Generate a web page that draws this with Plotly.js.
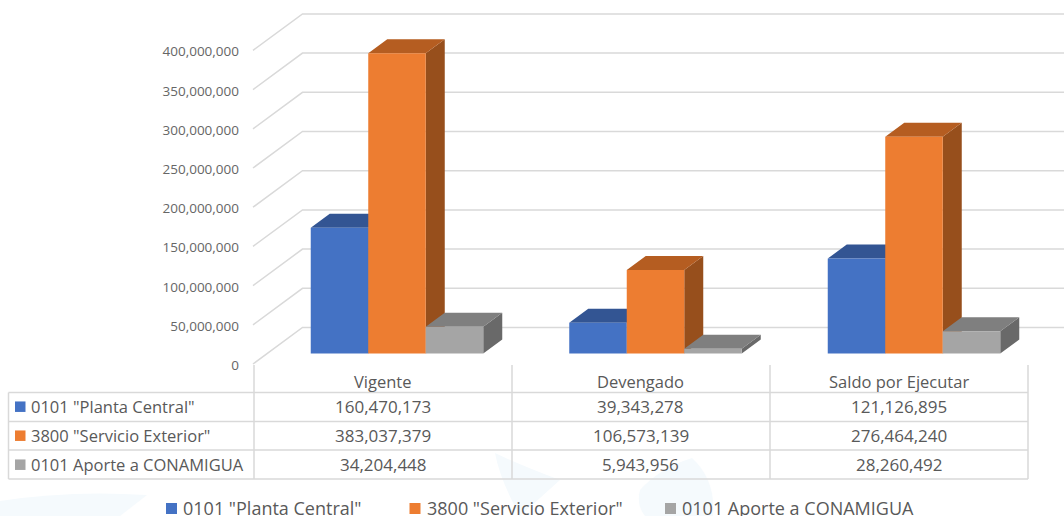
<!DOCTYPE html>
<html><head><meta charset="utf-8">
<script src="https://cdn.plot.ly/plotly-3.0.1.min.js"></script>
<style>html,body{margin:0;padding:0;background:#fff}#c{width:1064px;height:516px}</style></head>
<body><div id="c"></div>
<script>
const categories = ['Vigente', 'Devengado', 'Saldo por Ejecutar'];
const seriesNames = ['0101 "Planta Central"', '3800 "Servicio Exterior"', '0101 Aporte a CONAMIGUA'];
const planta = [160470173, 39343278, 121126895];
const servicio = [383037379, 106573139, 276464240];
const aporte = [34204448, 5943956, 28260492];
const yTicks = [0, 50000000, 100000000, 150000000, 200000000, 250000000, 300000000, 350000000, 400000000];
const colors = ['#4472C4', '#ED7D31', '#A5A5A5'];
const topColors = ['#335593', '#B55D21', '#7F7F7F'];
const sideColors = ['#2F4F8A', '#974F1C', '#696969'];
const seriesValues = [planta, servicio, aporte];

const W = 1064, H = 516;
const FONT = 'Open Sans, sans-serif', INK = '#595959', RULE = '#D9D9D9';
const px = p => p / W, py = p => 1 - p / H;
// scales
const unitPerPx = 1 / 258.5, valPerPx = 1 / 0.784e-6;
const xc0 = 397, yBars = 353.5, yFloor = 364, labelDrop = 1.2;
const xRange = [(0 - xc0) * unitPerPx, (W - xc0) * unitPerPx];
const rng = y0 => [(y0 - H) * valPerPx, y0 * valPerPx];
const barW = 57.5 * unitPerPx, depthX = 19 * unitPerPx, depthY = 14 * valPerPx;

const traces = [];
// wall and floor gridlines, on the axis that carries the tick labels
const wallX = 49.5 * unitPerPx, wallY = 36.5 * valPerPx, drop = labelDrop * valPerPx;
const xFront = (253 - xc0) * unitPerPx;
yTicks.forEach(v => traces.push({
  type: 'scatter', mode: 'lines', xaxis: 'x', yaxis: 'y', hoverinfo: 'skip', showlegend: false,
  x: [xFront, xFront + wallX, xRange[1]], y: [v + drop, v + drop + wallY, v + drop + wallY],
  line: {color: RULE, width: 1.5}
}));
// 3-D side and top faces, painter's order
seriesValues.forEach((vals, s) => {
  const fx = c => c + (s - 1.5) * barW;
  const sideX = [], sideY = [], topX = [], topY = [];
  vals.forEach((v, c) => {
    const l = fx(c), r = l + barW;
    sideX.push(r, r + depthX, r + depthX, r, r, null);
    sideY.push(0, depthY, v + depthY, v, 0, null);
    topX.push(l, l + depthX, r + depthX, r, l, null);
    topY.push(v, v + depthY, v + depthY, v, v, null);
  });
  traces.push({type:'scatter', mode:'lines', xaxis:'x', yaxis:'y2', x: sideX, y: sideY, fill:'toself',
    fillcolor: sideColors[s], line:{width:0}, hoverinfo:'skip', showlegend:false});
  traces.push({type:'scatter', mode:'lines', xaxis:'x', yaxis:'y2', x: topX, y: topY, fill:'toself',
    fillcolor: topColors[s], line:{width:0}, hoverinfo:'skip', showlegend:false});
});
// front faces
seriesValues.forEach((vals, s) => traces.push({
  type: 'bar', xaxis: 'x', yaxis: 'y3', name: seriesNames[s], x: [0, 1, 2], y: vals,
  marker: {color: colors[s]}, showlegend: false
}));

const annotations = [], shapes = [];
const label = (x, y, text, anchor, size) => annotations.push({
  xref:'paper', yref:'paper', x: px(x), y: py(y), text, showarrow:false, xanchor: anchor, yanchor:'middle',
  font:{family:FONT, size, color:INK}, borderpad:0
});
const rule = (x0, y0, x1, y1) => shapes.push({type:'line', xref:'paper', yref:'paper',
  x0: px(x0), y0: py(y0), x1: px(x1), y1: py(y1), line:{color:RULE, width:1.5}, layer:'above'});
const swatch = (x, yc, size, color) => shapes.push({type:'rect', xref:'paper', yref:'paper',
  x0: px(x), x1: px(x + size), y0: py(yc - size / 2), y1: py(yc + size / 2),
  fillcolor: color, line:{width:0}, layer:'above'});

// data table
const colX = [254, 512, 770, 1028], rowY = [392.5, 421.5, 450, 479];
colX.forEach(x => rule(x, 365, x, 479));
rule(8.5, 392.5, 8.5, 479);
rowY.forEach(y => rule(8.5, y, 1028, y));
const fmt = v => v.toLocaleString('en-US');
categories.forEach((c, i) => label((colX[i] + colX[i + 1]) / 2 - 0.5, 381.5, c, 'center', 16.5));
seriesNames.forEach((n, s) => {
  const yc = 406.7 + s * 29;
  swatch(15, yc, 10.5, colors[s]);
  label(30, yc, n, 'left', 16.5);
  seriesValues[s].forEach((v, i) => label((colX[i] + colX[i + 1]) / 2, yc, fmt(v), 'center', 17));
});
// legend row
const legendX = [166, 409.5, 665];
seriesNames.forEach((n, s) => {
  swatch(legendX[s], 508.5, 11, colors[s]);
  label(legendX[s] + 16, 507.5, n, 'left', 18);
});
// faint watermark behind the chart
const wm = (d) => shapes.push({type:'path', path:d, xref:'paper', yref:'paper', fillcolor:'#F5FAFD', line:{width:0}, layer:'below'});
const P = (x, y) => px(x).toFixed(5) + ',' + py(y).toFixed(5);
wm(`M${P(0,501)} Q${P(70,490)} ${P(147,495)} L${P(120,516)} L${P(0,516)} Z`);
wm(`M${P(495,453)} Q${P(520,465)} ${P(560,480)} L${P(520,516)} Q${P(500,480)} ${P(495,453)} Z`);
wm(`M${P(640,490)} Q${P(660,468)} ${P(692,458)} Q${P(716,480)} ${P(713,516)} L${P(645,516)} Q${P(636,505)} ${P(640,490)} Z`);

const hiddenAxis = r => ({range: r, visible:false, fixedrange:true});
const layout = {
  width: W, height: H, margin:{l:0, r:0, t:0, b:0}, paper_bgcolor:'rgba(0,0,0,0)', plot_bgcolor:'rgba(0,0,0,0)',
  showlegend:false, barmode:'group', bargap: 86 / 258.5, bargroupgap:0,
  xaxis:{range:xRange, visible:false, fixedrange:true},
  yaxis:{range:rng(yFloor + labelDrop), showgrid:false, zeroline:false, showline:false, anchor:'free', position:px(239),
    tickvals:yTicks, tickformat:',d', ticks:'', tickfont:{family:FONT, size:13.5, color:'#666666'}, fixedrange:true},
  yaxis2: Object.assign(hiddenAxis(rng(yBars)), {overlaying:'y'}),
  yaxis3: Object.assign(hiddenAxis(rng(yBars)), {overlaying:'y'}),
  annotations, shapes
};
Plotly.newPlot('c', traces, layout, {displayModeBar:false, staticPlot:true});
</script></body></html>
